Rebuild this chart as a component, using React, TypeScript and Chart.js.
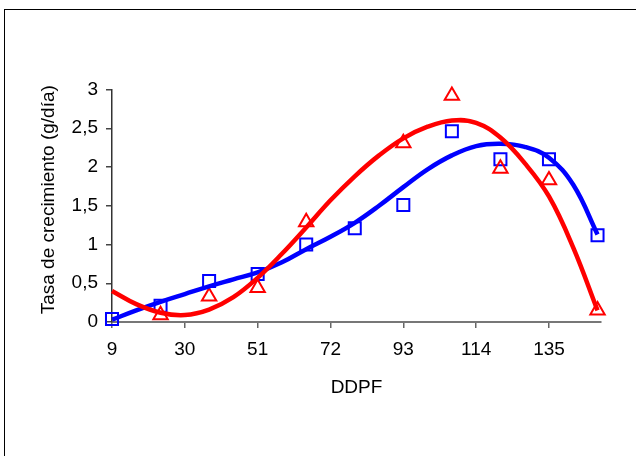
import React, { useEffect, useRef } from "react";
import { Chart, registerables } from "chart.js";

Chart.register(...registerables);

// Observed points (days after flowering)
const DAYS = [9, 23, 37, 51, 65, 79, 93, 107, 121, 135, 149];
const BLUE_OBS = [0.04, 0.21, 0.53, 0.62, 1.0, 1.21, 1.51, 2.46, 2.1, 2.1, 1.12];
const RED_OBS = [null, 0.09, 0.33, 0.44, 1.29, null, 2.31, 2.92, 1.98, 1.83, 0.15];

// Trend curves
const CURVE_X = [9, 16, 23, 30, 37, 44, 51, 58, 65, 72, 79, 86, 93, 100, 107, 114, 121, 128, 135, 142, 149];
const BLUE_CURVE = [0.03, 0.15, 0.26, 0.36, 0.46, 0.55, 0.64, 0.77, 0.94, 1.1, 1.28, 1.5, 1.74, 1.97, 2.15, 2.27, 2.3, 2.26, 2.12, 1.77, 1.13];
const RED_CURVE = [0.4, 0.23, 0.12, 0.09, 0.16, 0.32, 0.57, 0.88, 1.22, 1.57, 1.88, 2.15, 2.37, 2.52, 2.6, 2.57, 2.38, 2.05, 1.62, 0.96, 0.15];

// Axis ticks
const X_TICKS = [9, 30, 51, 72, 93, 114, 135];
const Y_TICKS = [0, 0.5, 1, 1.5, 2, 2.5, 3];
const X_TITLE = "DDPF";
const Y_TITLE = "Tasa de crecimiento (g/día)";

const FONT = "'Liberation Sans', Arial, sans-serif";

const yTitlePlugin = {
  id: "yTitle",
  afterDraw(chart: any) {
    const ctx = chart.ctx;
    const area = chart.chartArea;
    ctx.save();
    ctx.translate(49, (area.top + area.bottom) / 2 - 6);
    ctx.rotate(-Math.PI / 2);
    ctx.font = `19px ${FONT}`;
    ctx.fillStyle = "#000";
    ctx.textAlign = "center";
    ctx.textBaseline = "middle";
    ctx.fillText(Y_TITLE, 0, 0);
    ctx.restore();
  },
};

export default function App() {
  const ref = useRef<HTMLCanvasElement | null>(null);

  useEffect(() => {
    const canvas = ref.current;
    if (!canvas) return;
    const pts = (xs: number[], ys: (number | null)[]) =>
      xs.map((x, i) => ({ x, y: ys[i] })).filter((p) => p.y !== null);

    const chart = new Chart(canvas, {
      type: "scatter",
      plugins: [yTitlePlugin],
      data: {
        datasets: [
          {
            label: "red-trend",
            data: pts(CURVE_X, RED_CURVE),
            showLine: true,
            pointRadius: 0,
            borderColor: "#ff0000",
            borderWidth: 4.5,
            tension: 0.4,
            clip: false,
          },
          {
            label: "blue-trend",
            data: pts(CURVE_X, BLUE_CURVE),
            showLine: true,
            pointRadius: 0,
            borderColor: "#0000ff",
            borderWidth: 4.5,
            tension: 0.4,
            clip: false,
          },
          {
            label: "red",
            data: pts(DAYS, RED_OBS),
            pointStyle: "triangle",
            pointRadius: 8.3,
            pointBorderWidth: 2,
            pointBorderColor: "#ff0000",
            pointBackgroundColor: "rgba(0,0,0,0)",
            clip: false,
          },
          {
            label: "blue",
            data: pts(DAYS, BLUE_OBS),
            pointStyle: "rect",
            pointRadius: 8.5,
            pointBorderWidth: 2,
            pointBorderColor: "#0000ff",
            pointBackgroundColor: "rgba(0,0,0,0)",
            clip: false,
          },
        ],
      },
      options: {
        responsive: false,
        animation: false,
        events: [],
        layout: { padding: { top: 89.5, right: 35, left: 0, bottom: 0 } },
        plugins: { legend: { display: false }, tooltip: { enabled: false } },
        scales: {
          x: {
            type: "linear",
            min: 9,
            max: 150,
            afterBuildTicks: (s: any) => {
              s.ticks = X_TICKS.map((v) => ({ value: v }));
            },
            afterFit: (s: any) => {
              s.height = 134;
            },
            grid: { drawOnChartArea: false, tickLength: 6, color: "#666", lineWidth: 1.5 },
            border: { color: "#777", width: 2 },
            ticks: {
              padding: 10,
              color: "#000",
              font: { family: FONT, size: 19 },
              maxRotation: 0,
              autoSkip: false,
            },
            title: {
              display: true,
              text: X_TITLE,
              color: "#000",
              font: { family: FONT, size: 19 },
              padding: { top: 0, bottom: 56.5 },
            },
          },
          y: {
            type: "linear",
            min: 0,
            max: 3,
            afterBuildTicks: (s: any) => {
              s.ticks = Y_TICKS.map((v) => ({ value: v }));
            },
            afterFit: (s: any) => {
              s.width = 112;
            },
            grid: { drawOnChartArea: false, tickLength: 6, color: "#444", lineWidth: 1.5 },
            border: { color: "#333", width: 1.5 },
            ticks: {
              padding: 8,
              color: "#000",
              font: { family: FONT, size: 19 },
              callback: (v: any) => String(v).replace(".", ","),
            },
            title: { display: false },
          },
        },
      },
    } as any);
    return () => chart.destroy();
  }, []);

  return (
    <div
      style={{
        position: "fixed",
        left: 0,
        top: 0,
        width: 636,
        height: 456,
        overflow: "hidden",
        background: "#fff",
      }}
    >
      <div
        style={{
          position: "absolute",
          left: 4,
          top: 9,
          width: 700,
          height: 500,
          border: "1.5px solid #000",
        }}
      />
      <canvas
        ref={ref}
        width={636}
        height={456}
        style={{ position: "absolute", left: 0, top: 0, width: 636, height: 456 }}
      />
    </div>
  );
}
